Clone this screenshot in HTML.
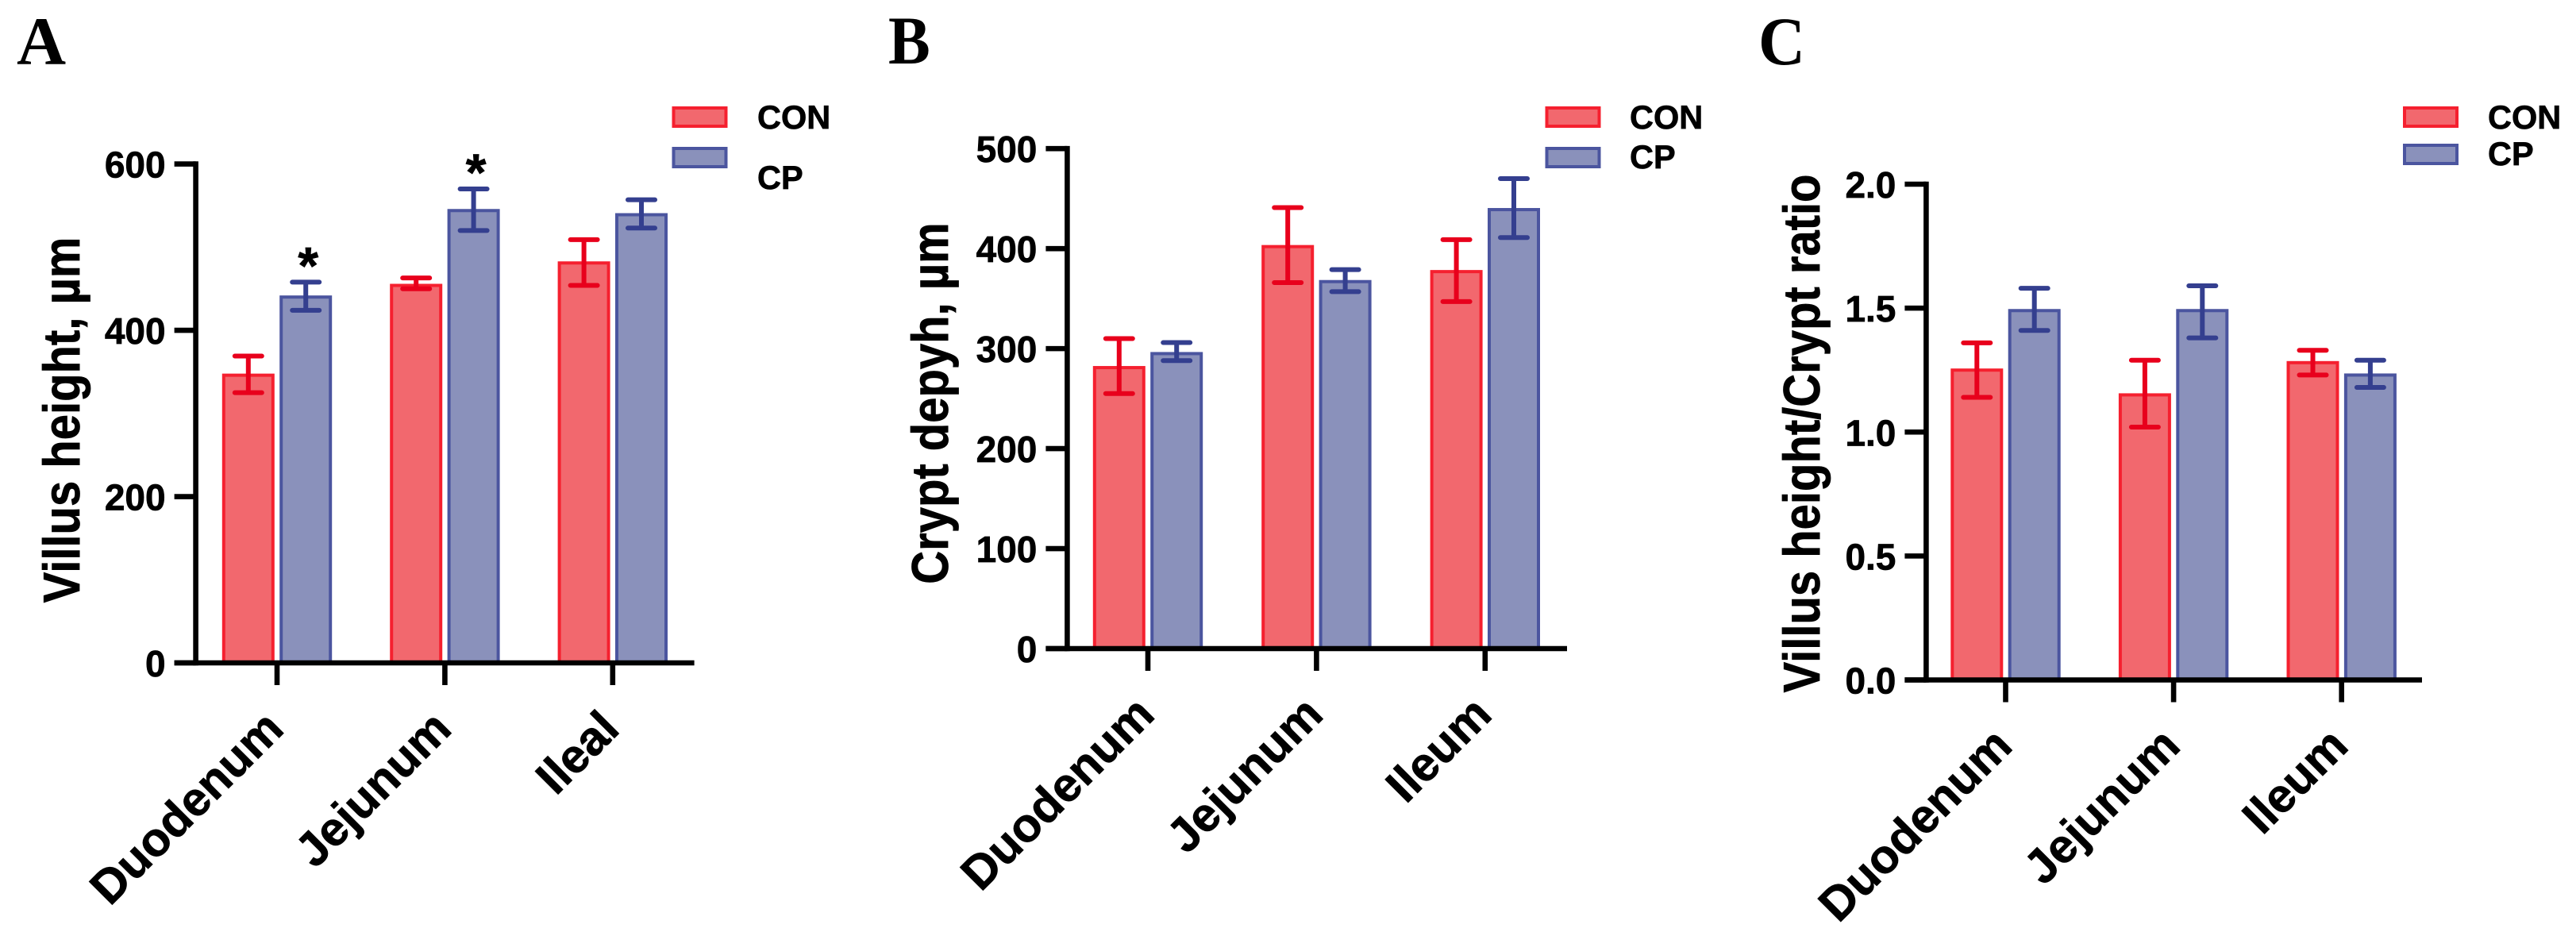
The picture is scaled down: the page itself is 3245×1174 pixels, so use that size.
<!DOCTYPE html>
<html lang="en">
<head>
<meta charset="utf-8">
<title>Intestinal morphology bar charts</title>
<style>
  html, body { margin: 0; padding: 0; background: #fff; }
  svg { display: block; }
  text { font-family: "Liberation Sans", Arial, sans-serif; font-weight: bold; fill: #000; stroke: #000; stroke-width: 0.7px; }
  .letter { font-family: "Liberation Serif", "Times New Roman", serif; font-size: 86px; stroke-width: 0; }
  .legend { font-size: 41.5px; }
  .ytitle { font-size: 58px; text-anchor: middle; }
</style>
</head>
<body>
<svg id="chart" xmlns="http://www.w3.org/2000/svg" width="3245" height="1174" viewBox="0 0 3245 1174">
  <rect x="0" y="0" width="3245" height="1174" fill="#fff"/>

  <text class="letter" x="21" y="81">A</text>
  <text class="letter" transform="translate(1119 80) scale(0.92 1)" x="0" y="0">B</text>
  <text class="letter" transform="translate(2215 81) scale(0.95 1)" x="0" y="0">C</text>

  <text class="ytitle" transform="translate(100 529) rotate(-90) scale(1 1.12)">Villus height, µm</text>
  <text class="ytitle" transform="translate(1194 508) rotate(-90) scale(1 1.12)">Crypt depyh, µm</text>
  <text class="ytitle" transform="translate(2292 546) rotate(-90) scale(1 1.12)">Villus height/Crypt ratio</text>

  <g>
    <rect x="848.5" y="136" width="66" height="23" fill="#f2686e" stroke="#f5202f" stroke-width="4"/>
    <rect x="848.5" y="187" width="66" height="23" fill="#8a91bb" stroke="#4b559f" stroke-width="4"/>
    <text class="legend" x="954" y="162">CON</text>
    <text class="legend" x="954" y="238">CP</text>
  </g>
  <g>
    <rect x="1948.5" y="136" width="66" height="23" fill="#f2686e" stroke="#f5202f" stroke-width="4"/>
    <rect x="1948.5" y="187" width="66" height="23" fill="#8a91bb" stroke="#4b559f" stroke-width="4"/>
    <text class="legend" x="2053" y="162">CON</text>
    <text class="legend" x="2053" y="212">CP</text>
  </g>
  <g>
    <rect x="3029" y="136" width="66" height="23" fill="#f2686e" stroke="#f5202f" stroke-width="4"/>
    <rect x="3029" y="183" width="66" height="23" fill="#8a91bb" stroke="#4b559f" stroke-width="4"/>
    <text class="legend" x="3134" y="162">CON</text>
    <text class="legend" x="3134" y="208">CP</text>
  </g>
</svg>

<script>
// ---- Panel A data ----
const categoriesA = ['Duodenum', 'Jejunum', 'Ileal'];
const ticksA = [0, 200, 400, 600];
const tickLabelsA = ['0', '200', '400', '600'];
const conA = [346, 454, 481];
const conErrHighA = [369, 463, 509];
const conErrLowA = [325, 450, 454];
const cpA = [440, 544, 539];
const cpErrHighA = [458, 570, 557];
const cpErrLowA = [424, 520, 523];
const starsA = ['*', '*', ''];

// ---- Panel B data ----
const categoriesB = ['Duodenum', 'Jejunum', 'Ileum'];
const ticksB = [0, 100, 200, 300, 400, 500];
const tickLabelsB = ['0', '100', '200', '300', '400', '500'];
const conB = [281, 402, 377];
const conErrHighB = [310, 441, 409];
const conErrLowB = [255, 366, 347];
const cpB = [295, 367, 439];
const cpErrHighB = [306, 379, 470];
const cpErrLowB = [288, 357, 411];
const starsB = ['', '', ''];

// ---- Panel C data ----
const categoriesC = ['Duodenum', 'Jejunum', 'Ileum'];
const ticksC = [0, 0.5, 1, 1.5, 2];
const tickLabelsC = ['0.0', '0.5', '1.0', '1.5', '2.0'];
const conC = [1.25, 1.15, 1.28];
const conErrHighC = [1.36, 1.29, 1.33];
const conErrLowC = [1.14, 1.02, 1.23];
const cpC = [1.49, 1.49, 1.23];
const cpErrHighC = [1.58, 1.59, 1.29];
const cpErrLowC = [1.41, 1.38, 1.18];
const starsC = ['', '', ''];

const SVG_NS = 'http://www.w3.org/2000/svg';
const root = document.getElementById('chart');

function make(parent, tag, attrs, txt) {
  const node = document.createElementNS(SVG_NS, tag);
  for (const k in attrs) node.setAttribute(k, attrs[k]);
  if (txt !== undefined) node.textContent = txt;
  parent.appendChild(node);
  return node;
}

function drawPanel(p) {
  const yScale = v => p.y0 - (v - p.yMin) / (p.yMax - p.yMin) * (p.y0 - p.yTop);
  const xScale = i => p.x0 + i * p.step;
  const barW = 62;
  const offset = 36.2;

  const g = make(root, 'g', {});
  
  

  function drawBars(values, hi, lo, sign, fill, stroke, errColor, seriesName) {
    values.forEach((v, i) => {
      const cx = xScale(i) + sign * offset;
      const top = yScale(v);
      const bar = make(g, 'rect', { x: cx - barW / 2, y: top, width: barW, height: p.y0 - top, fill: fill, stroke: stroke, 'stroke-width': 4 });
      
      
    });
    values.forEach((v, i) => {
      const cx = xScale(i) + sign * offset;
      const yHi = yScale(hi[i]);
      const yLo = yScale(lo[i]);
      const d = 'M' + cx + ' ' + yHi + 'V' + yLo + 'M' + (cx - 17) + ' ' + yHi + 'H' + (cx + 17) + 'M' + (cx - 17) + ' ' + yLo + 'H' + (cx + 17);
      const err = make(g, 'path', { d: d, fill: 'none', stroke: errColor, 'stroke-width': 6, 'stroke-linecap': 'round' });
      
      
    });
  }

  drawBars(p.con, p.conHi, p.conLo, -1, '#f2686e', '#f5202f', '#e8001c', 'con');
  drawBars(p.cp, p.cpHi, p.cpLo, 1, '#8a91bb', '#4b559f', '#343f8f', 'cp');

  // Significance markers
  p.stars.forEach((s, i) => {
    if (!s) return;
    const star = make(g, 'text', { x: xScale(i) + offset + 3, y: yScale(p.cpHi[i]) + 2, 'text-anchor': 'middle', style: 'font-size:66px' }, s);
    
    
  });

  // Axes
  const yAxis = make(g, 'line', { x1: p.axisX, x2: p.axisX, y1: p.yTop - 3.3, y2: p.y0 + 3.3, stroke: '#000', 'stroke-width': 6.6 });
  
  
  const xAxis = make(g, 'line', { x1: p.axisX - 27, x2: p.axisEnd, y1: p.y0, y2: p.y0, stroke: '#000', 'stroke-width': 6.6 });
  
  

  p.ticks.forEach((t, i) => {
    const y = yScale(t);
    const tick = make(g, 'line', { x1: p.axisX - 27, x2: p.axisX, y1: y, y2: y, stroke: '#000', 'stroke-width': 6.6 });
    
    
    const label = make(g, 'text', { x: p.axisX - 38, y: y + 17, 'text-anchor': 'end', style: 'font-size:46px' }, p.tickLabels[i]);
    
    
  });

  p.categories.forEach((c, i) => {
    const x = xScale(i);
    const tick = make(g, 'line', { x1: x, x2: x, y1: p.y0, y2: p.y0 + 28, stroke: '#000', 'stroke-width': 6.6 });
    
    
    const label = make(g, 'text', { transform: 'translate(' + (x + 11) + ' ' + (p.y0 + 86) + ') rotate(-45)', 'text-anchor': 'end', style: 'font-size:60px' }, c);
    
    
  });
}

drawPanel({ id: 'a', axisX: 246.6, axisEnd: 874.6, y0: 835, yTop: 206.6, yMin: 0, yMax: 600, x0: 349, step: 211.4,
  categories: categoriesA, ticks: ticksA, tickLabels: tickLabelsA, con: conA, conHi: conErrHighA, conLo: conErrLowA, cp: cpA, cpHi: cpErrHighA, cpLo: cpErrLowA, stars: starsA });
drawPanel({ id: 'b', axisX: 1344.4, axisEnd: 1974, y0: 817, yTop: 187.2, yMin: 0, yMax: 500, x0: 1446, step: 212.4,
  categories: categoriesB, ticks: ticksB, tickLabels: tickLabelsB, con: conB, conHi: conErrHighB, conLo: conErrLowB, cp: cpB, cpHi: cpErrHighB, cpLo: cpErrLowB, stars: starsB });
drawPanel({ id: 'c', axisX: 2426.4, axisEnd: 3051, y0: 856.5, yTop: 232, yMin: 0, yMax: 2, x0: 2526.5, step: 211.6,
  categories: categoriesC, ticks: ticksC, tickLabels: tickLabelsC, con: conC, conHi: conErrHighC, conLo: conErrLowC, cp: cpC, cpHi: cpErrHighC, cpLo: cpErrLowC, stars: starsC });
</script>
</body>
</html>
